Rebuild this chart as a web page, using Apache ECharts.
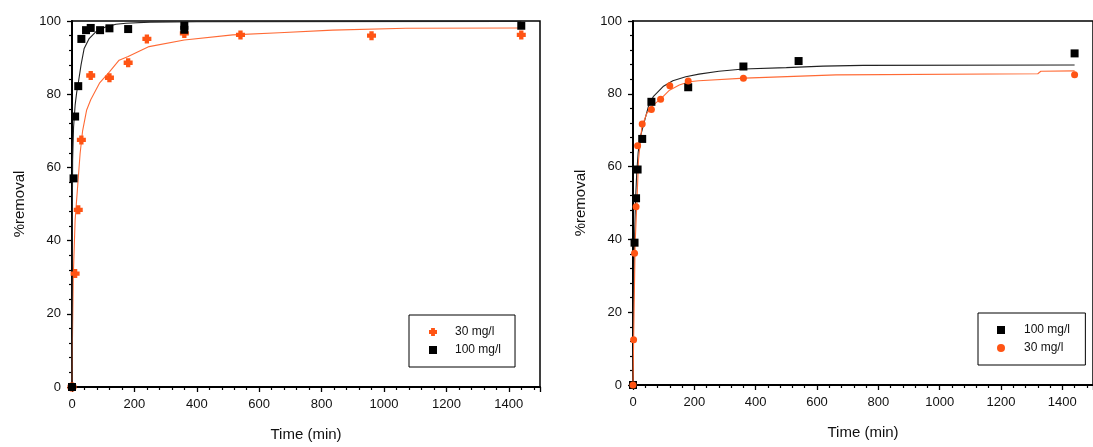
<!DOCTYPE html>
<html>
<head>
<meta charset="utf-8">
<script src="https://cdn.jsdelivr.net/npm/echarts@6/dist/echarts.min.js"></script>
<style>
  html, body { margin: 0; padding: 0; background: #fff; }
  #chart { width: 1093px; height: 447px; }
</style>
</head>
<body>
<div id="chart"></div>
<script>
// Left panel: measured points
const leftTime30 = [0, 10, 20, 30, 60, 120, 180, 240, 360, 540, 960, 1440];
const leftRemoval30 = [0, 31, 48.4, 67.5, 85.1, 84.5, 88.6, 95.1, 96.6, 96.2, 96.0, 96.2];
const leftTime100 = [0, 5, 10, 20, 30, 45, 60, 90, 120, 180, 360, 360, 1440];
const leftRemoval100 = [0, 57, 73.9, 82.2, 95.1, 97.5, 98.1, 97.5, 98, 97.8, 97.6, 98.7, 98.7];

// Left panel: fitted curves
const leftFitTime30 = [0, 1, 4, 10, 18, 26, 34, 47, 60, 88, 120, 151, 180, 247, 360, 515, 664, 835, 1070, 1440];
const leftFitRemoval30 = [0, 10, 30, 45.6, 54.7, 63.8, 70, 75.7, 78.5, 83, 86.1, 89.3, 90.3, 93, 94.8, 96.2, 96.8, 97.5, 98, 98.1];
const leftFitTime100 = [0, 1, 2, 5, 10, 15, 20, 29, 39, 55, 77, 109, 141, 173, 250, 400, 1440];
const leftFitRemoval100 = [0, 45, 62, 71, 77, 80.5, 83, 88, 92.5, 95.2, 97.1, 98.4, 99.1, 99.4, 99.7, 99.8, 99.9];

// Right panel: measured points
const rightTime100 = [0, 5, 10, 15, 30, 60, 180, 360, 540, 1440];
const rightRemoval100 = [0, 39.1, 51.3, 59.2, 67.6, 77.8, 81.8, 87.5, 89.0, 91.1];
const rightTime30 = [0, 2, 5, 10, 15, 30, 60, 90, 120, 180, 360, 1440];
const rightRemoval30 = [0, 12.4, 36.2, 49, 65.7, 71.7, 75.7, 78.5, 82.2, 83.5, 84.3, 85.2];

// Right panel: fitted curves
const rightFitTime100 = [0, 1, 3, 5, 8, 12, 17, 25, 34, 50, 66, 98, 130, 172, 215, 280, 360, 500, 620, 750, 1440];
const rightFitRemoval100 = [0, 20, 30, 40, 50, 58, 64, 68.5, 71.4, 76.5, 79.2, 82, 83.6, 84.7, 85.4, 86.2, 86.8, 87.2, 87.6, 87.8, 87.9];
const rightFitTime30 = [0, 2, 7, 13, 18, 29, 45, 66, 93, 119, 151, 183, 215, 364, 662, 1320, 1330, 1440];
const rightFitRemoval30 = [0, 12, 39, 50.7, 61.8, 71, 74.6, 76.9, 78.8, 81, 82.4, 83.3, 83.6, 84.3, 85.2, 85.5, 86.2, 86.3];

const ORANGE = '#ff5414';
const ORANGE_LINE = '#ff6a35';
const FONT = 'Liberation Sans, Arial, sans-serif';
const PLUS = 'path://M2.6,0H7.4V2.6H10V7.4H7.4V10H2.6V7.4H0V2.6H2.6Z';

const zip = (xs, ys) => xs.map((x, i) => [x, ys[i]]);

function xAxisFor(gi) {
  return {
    gridIndex: gi, type: 'value', min: 0, max: 1500, interval: 200,
    name: 'Time (min)', nameLocation: 'middle', nameGap: 40,
    nameTextStyle: { fontFamily: FONT, fontSize: 15, color: '#111' },
    axisLine: { show: true, lineStyle: { color: '#000', width: 2 } },
    axisTick: { show: true, length: 5, lineStyle: { color: '#000', width: 1.3 } },
    minorTick: { show: true, splitNumber: 5, length: 3, lineStyle: { color: '#000', width: 1.2 } },
    axisLabel: {
      fontFamily: FONT, fontSize: 13, color: '#111', margin: 11, showMaxLabel: false,
      formatter: v => String(v)
    },
    splitLine: { show: false }
  };
}
function yAxisFor(gi) {
  return {
    gridIndex: gi, type: 'value', min: 0, max: 100, interval: 20,
    name: '%removal', nameLocation: 'middle', nameGap: 45,
    nameTextStyle: { fontFamily: FONT, fontSize: 15, color: '#111' },
    axisLine: { show: true, lineStyle: { color: '#000', width: 2 } },
    axisTick: { show: true, length: 5, lineStyle: { color: '#000', width: 1.3 } },
    minorTick: { show: true, splitNumber: 5, length: 3, lineStyle: { color: '#000', width: 1.2 } },
    axisLabel: { fontFamily: FONT, fontSize: 13, color: '#111', margin: 11 },
    splitLine: { show: false }
  };
}
function fitLine(name, gi, xs, ys, color) {
  return {
    name: name, type: 'line', xAxisIndex: gi, yAxisIndex: gi,
    data: zip(xs, ys), showSymbol: false, symbol: 'none', smooth: false,
    lineStyle: { color: color, width: 1.1 }, z: 2, silent: true
  };
}
function points(name, gi, xs, ys, color, symbol, size) {
  return {
    name: name, type: 'scatter', xAxisIndex: gi, yAxisIndex: gi,
    data: zip(xs, ys), symbol: symbol, symbolSize: size,
    itemStyle: { color: color, opacity: 1 }, z: 3
  };
}

const chart = echarts.init(document.getElementById('chart'), null, { renderer: 'canvas' });
chart.setOption({
  animation: false,
  backgroundColor: '#fff',
  grid: [
    { left: 72, top: 21, width: 468, height: 366, show: true, borderColor: '#000', borderWidth: 1.5, backgroundColor: 'transparent' },
    { left: 633, top: 21, width: 470, height: 364, show: true, borderColor: '#000', borderWidth: 1.5, backgroundColor: 'transparent' }
  ],
  xAxis: [xAxisFor(0), xAxisFor(1)],
  yAxis: [yAxisFor(0), yAxisFor(1)],
  legend: [
    {
      data: [
        { name: '30 mg/l', icon: PLUS, itemStyle: { color: ORANGE, opacity: 1 } },
        { name: '100 mg/l', icon: 'rect', itemStyle: { color: '#000', opacity: 1 } }
      ],
      orient: 'vertical', left: 409, top: 315,
      itemWidth: 8, itemHeight: 8, itemGap: 6,
      padding: [11, 14, 11, 20],
      borderColor: '#000', borderWidth: 1,
      textStyle: { fontFamily: FONT, fontSize: 12, color: '#111', padding: [0, 0, 0, 13] }
    },
    {
      data: [
        { name: '100 mg/l ', icon: 'rect', itemStyle: { color: '#000', opacity: 1 } },
        { name: '30 mg/l ', icon: 'circle', itemStyle: { color: ORANGE, opacity: 1 } }
      ],
      orient: 'vertical', left: 978, top: 313,
      itemWidth: 8, itemHeight: 8, itemGap: 6,
      padding: [11, 12, 11, 19],
      borderColor: '#000', borderWidth: 1,
      textStyle: { fontFamily: FONT, fontSize: 12, color: '#111', padding: [0, 0, 0, 14] }
    }
  ],
  series: [
    fitLine('fit30L', 0, leftFitTime30, leftFitRemoval30, ORANGE_LINE),
    fitLine('fit100L', 0, leftFitTime100, leftFitRemoval100, '#222'),
    points('30 mg/l', 0, leftTime30, leftRemoval30, ORANGE, PLUS, 9),
    points('100 mg/l', 0, leftTime100, leftRemoval100, '#000', 'rect', 8),

    fitLine('fit100R', 1, rightFitTime100, rightFitRemoval100, '#222'),
    fitLine('fit30R', 1, rightFitTime30, rightFitRemoval30, ORANGE_LINE),
    points('100 mg/l ', 1, rightTime100, rightRemoval100, '#000', 'rect', 8),
    points('30 mg/l ', 1, rightTime30, rightRemoval30, ORANGE, 'circle', 7)
  ]
});
</script>
</body>
</html>
